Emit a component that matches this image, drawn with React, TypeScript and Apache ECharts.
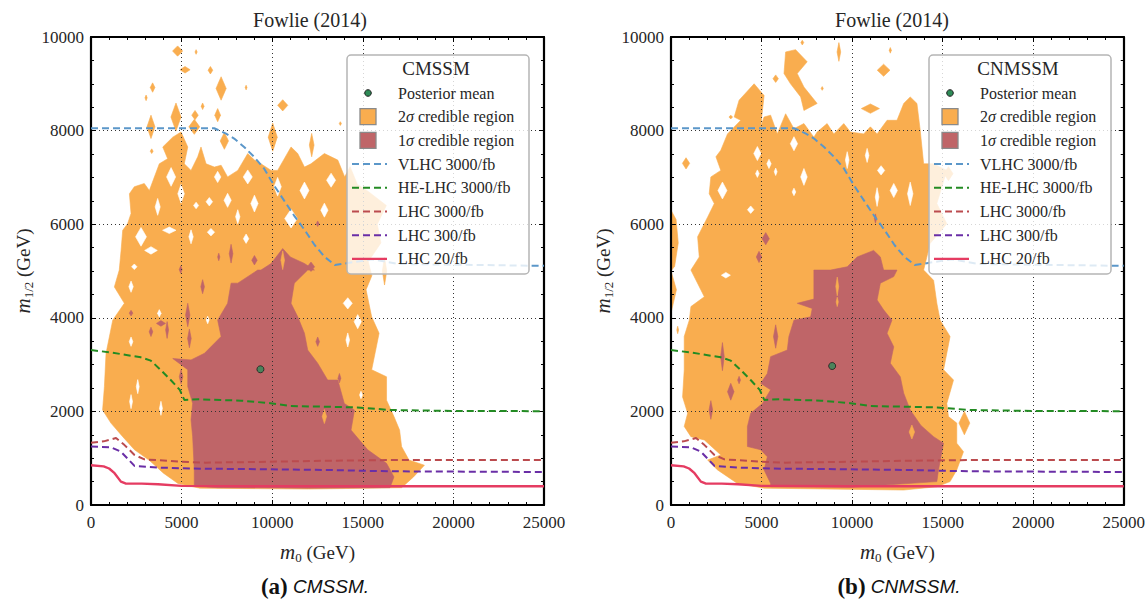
import React, { useEffect, useRef } from "react";
import * as echarts from "echarts";

// ---------- data (m0 GeV, m1/2 GeV) ----------
const X_MIN = 0, X_MAX = 25000, X_STEP = 5000;
const Y_MIN = 0, Y_MAX = 10000, Y_STEP = 2000;

const VLHC_3000 = [[0,8050],[6800,8050],[7450,7935],[7900,7830],[8450,7650],[9000,7440],[9550,7190],[10100,6830],[10650,6510],[11200,6190],[11800,5870],[12350,5550],[12900,5300],[13450,5130],[14000,5160],[15500,5250],[17000,5150],[25000,5110]];
const HELHC_3000 = [[0,3310],[1100,3260],[2750,3155],[3300,3085],[3850,2885],[4400,2670],[4900,2460],[5150,2245],[6000,2258],[8300,2230],[9900,2175],[11000,2115],[12900,2100],[14700,2085],[16500,2030],[20000,2010],[25000,2005]];
const LHC_3000 = [[0,1330],[700,1360],[1380,1430],[1850,1280],[2400,1070],[2950,975],[5000,925],[6300,905],[9200,920],[12900,945],[16500,960],[25000,962]];
const LHC_300 = [[0,1250],[1100,1235],[1650,1140],[2000,1000],[2400,835],[3700,800],[5500,778],[9900,763],[12900,749],[16500,720],[25000,705]];
const LHC_20 = [[0,850],[700,825],[1000,780],[1300,680],[1650,500],[1900,460],[2800,457],[3700,443],[5000,408],[10000,400],[25000,400]];

const CMSSM_MEAN = [[9350, 2900]];
const CNMSSM_MEAN = [[8900, 2970]];

// CMSSM 2 sigma region: main outline, islands [cx, cy, rx, ry], holes [cx, cy, rx, ry]
const CMSSM_2S_MAIN = [[4800,460],[4000,680],[3200,960],[2400,1180],[1750,1460],[1100,1750],[640,2030],[740,2530],[830,3240],[1200,3950],[1840,4310],[1290,4660],[1560,5020],[1660,5440],[1750,5870],[2020,6010],[2210,6230],[2120,6650],[2390,6800],[2940,6870],[3220,6720],[3770,7290],[4230,7400],[3960,7650],[4510,7860],[4970,7970],[5340,7650],[5150,7290],[5520,7150],[5890,7440],[6070,7650],[6350,7290],[6810,7220],[7180,7260],[7540,7010],[8100,7150],[8650,7510],[9020,7370],[9380,7290],[9940,7150],[10300,7150],[11040,7650],[11410,7510],[11780,7220],[12140,7290],[12880,7510],[13620,7370],[14000,7010],[14300,7230],[14700,6850],[15300,6700],[16300,6400],[15800,6000],[16000,5600],[15300,5200],[15500,4900],[15180,4600],[15490,4020],[15900,3670],[15490,2890],[16310,2740],[16310,2240],[16720,1890],[17030,1600],[17140,1250],[17550,960],[18400,850],[17800,600],[17140,370],[12000,340],[6000,360]];
const CMSSM_2S_ISLANDS = [[4780,9700,280,110],[5800,9680,60,50],[5190,9300,280,70],[6590,9290,130,80],[7180,8900,280,250],[3400,8920,130,100],[3040,8700,60,60],[4690,8290,280,300],[5740,8330,180,100],[6160,8520,80,70],[6990,8330,160,140],[10580,8540,280,120],[10030,7860,250,300],[7360,7780,230,180],[3310,8080,220,250],[3350,7560,80,50],[12180,7690,130,250],[8560,8920,50,50],[5700,8080,300,160],[13760,8150,60,40],[16200,5000,120,300]];
const CMSSM_2S_HOLES = [[4320,5870,370,70],[2760,5730,300,200],[3680,6370,140,180],[5800,6400,140,70],[6530,6480,180,90],[6990,7010,180,120],[8650,7010,250,150],[9020,6440,200,180],[7540,6510,200,150],[11780,6720,250,180],[13250,6940,250,150],[6620,5830,200,80],[8560,5690,150,100],[3310,5440,350,80],[2390,5090,150,60],[5520,5730,120,150],[4970,6650,180,200],[11040,6120,350,200],[4420,7010,250,200],[10300,6800,200,200],[12880,6300,200,150],[8100,6160,120,150],[2210,4665,120,120],[3770,4095,100,80],[2210,3490,100,100],[2580,2529,80,150],[2210,2209,80,150],[3860,2066,80,150],[6440,3953,80,80],[14170,4309,250,120],[14720,3918,200,150],[14170,3526,100,150],[14900,2351,80,80]];
const CMSSM_1S_MAIN = [[5700,400],[5700,750],[5610,1460],[5520,1820],[5610,2170],[5340,2530],[5340,2890],[4510,3130],[5520,3100],[6260,3240],[7180,3600],[6990,3950],[7540,4310],[7730,4740],[8100,4740],[9200,5020],[9380,5020],[9940,5160],[10580,5480],[11000,5300],[11780,5160],[12330,5020],[11960,5020],[11220,4740],[11040,4310],[11410,4020],[11780,3670],[11960,3310],[12510,3030],[13060,2670],[13620,2670],[13980,2170],[14540,2030],[14350,1600],[15270,1180],[16310,890],[16720,600],[16500,370],[12000,360],[7000,370]];
const CMSSM_1S_ISLANDS = [[12510,6010,80,60],[7730,5370,100,200],[9020,5230,150,100],[7050,5300,60,80],[12140,5090,200,100],[6160,4665,100,150],[5340,4060,120,250],[3860,3880,250,60],[3310,3700,100,100],[4200,3740,80,180],[2210,4100,100,60],[4970,2740,100,150],[12510,3490,100,100],[13710,2710,80,100],[5430,3560,100,200],[4950,5030,80,80]];
const CMSSM_1S_HOLES = [[10580,5230,100,200],[12880,1890,120,150]];

// CNMSSM
const CNMSSM_2S_MAIN = [[1100,1460],[1840,1390],[2750,1070],[2020,960],[2570,750],[3670,460],[5140,360],[12850,320],[14680,390],[15410,500],[15780,750],[16150,1140],[15780,1320],[15780,1750],[15320,1890],[15230,2170],[15600,2670],[15050,2890],[15410,3600],[14860,3950],[14680,4310],[14500,4800],[13950,5020],[14310,5590],[15230,6010],[14680,6440],[15230,7150],[14500,7290],[13950,7290],[13760,8010],[13580,8580],[13210,8720],[12850,8580],[12480,8220],[11930,8220],[11380,7930],[11010,8080],[10640,7930],[9910,7970],[9540,8150],[8990,7930],[8620,8150],[8070,7970],[7890,7860],[7340,8150],[6790,8040],[6330,8360],[5870,7930],[5500,8330],[5140,8290],[4950,8080],[5140,8750],[4590,9000],[3760,8650],[3490,8290],[3850,8220],[3120,7930],[2750,7580],[2480,7440],[2750,7150],[2200,7010],[2110,6650],[2390,6440],[2020,6150],[1470,5730],[1560,5300],[1100,5020],[1840,4450],[1100,4240],[1010,3950],[730,3600],[730,2890],[640,2310],[920,1960],[730,1680]];
const CNMSSM_2S_EXTRA = [
  [[6240,9220],[6330,9680],[6880,9730],[7520,9470],[6970,9220],[7340,8930],[8070,8580],[7340,8430],[7160,8720],[6600,9000]],
  [[0,6300],[280,6100],[400,5600],[200,5100],[0,5000]],
  [[0,5000],[300,4600],[0,4100]],
];
const CNMSSM_2S_ISLANDS = [[9270,9680,100,200],[11740,9290,350,130],[11010,8470,500,100],[5780,9110,150,80],[3300,8290,100,40],[830,7300,200,120],[8350,8900,60,40],[12110,9715,60,60],[7250,9880,80,50],[15320,7080,250,150],[370,3740,50,80],[16200,1750,300,250]];
const CNMSSM_2S_HOLES = [[4770,7510,200,150],[5410,7290,120,100],[5780,7120,80,80],[4770,7080,100,80],[6790,7720,200,150],[7340,7010,180,180],[2840,6720,250,180],[4400,6310,180,80],[6790,6690,100,80],[9730,7370,100,180],[10830,7470,100,150],[11380,6580,100,200],[12300,6720,200,150],[13210,6650,150,250],[11600,7150,200,100],[3030,4910,250,60]];
const CNMSSM_1S_MAIN = [[5500,390],[5500,460],[5140,750],[5320,1030],[4950,1180],[4220,1250],[4220,1680],[4400,1960],[5050,2170],[5500,2460],[4950,2600],[5320,2810],[5500,3170],[6420,3310],[6510,3600],[6790,3950],[7710,4020],[7800,4200],[6970,4310],[7890,4400],[7890,4740],[7890,5020],[8810,5020],[9730,5090],[10280,5300],[11190,5440],[11560,5300],[11740,5020],[12480,5020],[12300,4880],[11560,4740],[11380,4380],[11740,4170],[12200,3950],[11930,3670],[12300,3380],[12110,3030],[12660,2740],[12850,2390],[13210,2030],[13800,1700],[14500,1460],[15050,1320],[14770,750],[14680,500],[10000,380]];
const CNMSSM_1S_ISLANDS = [[5230,5690,200,130],[4860,5300,150,120],[5780,3600,120,250],[2840,3170,100,300],[3300,2420,180,180],[2200,2030,100,200],[3760,2670,80,80],[11290,6120,60,100]];
const CNMSSM_1S_HOLES = [[9180,4670,80,200],[9180,4340,60,100],[13300,1560,150,150]];

// ---------- styles ----------
const SERIF = "'Liberation Serif', 'DejaVu Serif', serif";
const SANS = "'Liberation Sans', Arial, sans-serif";
const C_2S = "#f9ad4f";
const C_1S = "#bf6568";
const C_MEAN = "#2e8b57";
const LINES = [
  { name: "VLHC 3000/fb", data: VLHC_3000, color: "#5b97c9", dash: true },
  { name: "HE-LHC 3000/fb", data: HELHC_3000, color: "#238b23", dash: true },
  { name: "LHC 3000/fb", data: LHC_3000, color: "#bb4b4e", dash: true },
  { name: "LHC 300/fb", data: LHC_300, color: "#6a2ea6", dash: true },
  { name: "LHC 20/fb", data: LHC_20, color: "#e53c62", dash: false },
];

function diamond(d: number[]) {
  const [cx, cy, rx, ry] = d;
  return [[cx - rx, cy], [cx, cy + ry], [cx + rx, cy], [cx, cy - ry]];
}

function polySeries(polys: number[][][], color: string, gi: number, z: number) {
  return {
    type: "custom",
    xAxisIndex: gi * 2,
    yAxisIndex: gi * 2,
    z,
    clip: true,
    silent: true,
    encode: { x: 0, y: 1 },
    data: polys.map((p, i) => [p[0][0], p[0][1], i]),
    renderItem: (params: any, api: any) => {
      const poly = polys[params.dataIndex];
      return {
        type: "polygon",
        shape: { points: poly.map((p) => api.coord(p)) },
        style: { fill: color, stroke: color, lineWidth: 0.6 },
      };
    },
  };
}

const axisLabelStyle = { fontFamily: SERIF, fontSize: 17, color: "#262626", formatter: (v: number) => String(v) };
const nameStyle = (pad: number) => ({
  fontFamily: SERIF,
  fontSize: 19,
  color: "#262626",
  lineHeight: 26,
  rich: {
    i: { fontFamily: SERIF, fontSize: 21, fontStyle: "italic", color: "#262626", lineHeight: 26 },
    s: { fontFamily: SERIF, fontSize: 13, color: "#262626", lineHeight: 16, padding: [pad, 0, 0, 0] },
  },
});

function axesFor(gi: number) {
  const tick = { show: true, inside: true, length: 5, lineStyle: { color: "#000", width: 1 } };
  const line = { show: true, onZero: false, lineStyle: { color: "#000", width: 2.2 } };
  const split = { show: true, lineStyle: { color: "#333", width: 1, type: [1, 3] } };
  const xBase = { gridIndex: gi, type: "value", min: X_MIN, max: X_MAX, interval: X_STEP, z: 5, axisLine: line, axisTick: tick, minorTick: { show: true, splitNumber: 5, length: 3, lineStyle: { color: "#000" } } };
  const yBase = { gridIndex: gi, type: "value", min: Y_MIN, max: Y_MAX, interval: Y_STEP, z: 5, axisLine: line, axisTick: tick, minorTick: { show: true, splitNumber: 4, length: 3, lineStyle: { color: "#000" } } };
  return {
    x: [
      { ...xBase, position: "bottom", splitLine: split, axisLabel: { ...axisLabelStyle, margin: 9 }, name: "{i|m}{s|0} (GeV)", nameLocation: "middle", nameGap: 34, nameTextStyle: nameStyle(10) },
      { ...xBase, position: "top", splitLine: { show: false }, axisLabel: { show: false } },
    ],
    y: [
      { ...yBase, position: "left", splitLine: split, axisLabel: { ...axisLabelStyle, margin: 7 }, name: "{i|m}{s|1/2} (GeV)", nameLocation: "middle", nameGap: 55, nameTextStyle: nameStyle(10) },
      { ...yBase, position: "right", splitLine: { show: false }, axisLabel: { show: false } },
    ],
  };
}

function panelSeries(gi: number, p: any) {
  const orange = [p.main2, ...(p.extra2 || []), ...p.isl2.map(diamond)];
  const holes = p.holes2.map(diamond);
  const red = [p.main1, ...p.isl1.map(diamond)];
  const redHoles = p.holes1.map(diamond);
  const out: any[] = [
    polySeries(orange, C_2S, gi, 1),
    polySeries(holes, "#ffffff", gi, 2),
    polySeries(red, C_1S, gi, 3),
    polySeries(redHoles, C_2S, gi, 4),
  ];
  LINES.forEach((l) => {
    out.push({
      type: "line", name: l.name, xAxisIndex: gi * 2, yAxisIndex: gi * 2, z: 6,
      data: l.data, showSymbol: false, silent: true,
      lineStyle: { color: l.color, width: l.dash ? 2 : 2.4, type: l.dash ? [7, 4] : "solid" },
    });
  });
  out.push({
    type: "scatter", name: "Posterior mean", xAxisIndex: gi * 2, yAxisIndex: gi * 2, z: 7,
    data: p.mean, symbolSize: 7, itemStyle: { color: C_MEAN, borderColor: "#1b1b1b", borderWidth: 1 },
  });
  return out;
}

function legendElements(x0: number, title: string) {
  const els: any[] = [];
  els.push({ type: "rect", z: 50, shape: { x: x0, y: 55, width: 182, height: 219, r: 4 }, style: { fill: "rgba(255,255,255,0.8)", stroke: "#b5b5b5", lineWidth: 1.5 } });
  els.push({ type: "text", z: 51, x: x0 + 89, y: 68, style: { text: title, fontFamily: SERIF, fontSize: 19, fill: "#262626", align: "center", verticalAlign: "middle" } });
  const rowY = (i: number) => 93 + i * 23.7;
  const txt = (i: number, s: string) => ({
    type: "text", z: 51, x: x0 + 51, y: rowY(i),
    style: { text: s, fontFamily: SERIF, fontSize: 16, fill: "#262626", align: "left", verticalAlign: "middle", rich: { g: { fontFamily: SERIF, fontSize: 16, fontStyle: "italic", fill: "#262626" } } },
  });
  els.push({ type: "circle", z: 51, shape: { cx: x0 + 21, cy: rowY(0), r: 3.3 }, style: { fill: C_MEAN, stroke: "#1b1b1b", lineWidth: 1 } });
  els.push(txt(0, "Posterior mean"));
  els.push({ type: "rect", z: 51, shape: { x: x0 + 13, y: rowY(1) - 8, width: 16, height: 16 }, style: { fill: C_2S, stroke: "#8a8a8a", lineWidth: 1.3 } });
  els.push(txt(1, "2{g|σ} credible region"));
  els.push({ type: "rect", z: 51, shape: { x: x0 + 13, y: rowY(2) - 8, width: 16, height: 16 }, style: { fill: C_1S, stroke: "#8a8a8a", lineWidth: 1.3 } });
  els.push(txt(2, "1{g|σ} credible region"));
  LINES.forEach((l, k) => {
    const i = k + 3;
    els.push({ type: "line", z: 51, shape: { x1: x0 + 5, y1: rowY(i), x2: x0 + 40, y2: rowY(i) }, style: { stroke: l.color, lineWidth: l.dash ? 2 : 2.4, lineDash: l.dash ? [7, 4] : null } });
    els.push(txt(i, l.name));
  });
  return els;
}

export default function App() {
  const ref = useRef<HTMLDivElement>(null);
  useEffect(() => {
    if (!ref.current) return;
    const chart = echarts.init(ref.current, undefined, { renderer: "svg" });
    const a0 = axesFor(0);
    const a1 = axesFor(1);
    const p0 = { main2: CMSSM_2S_MAIN, isl2: CMSSM_2S_ISLANDS, holes2: CMSSM_2S_HOLES, main1: CMSSM_1S_MAIN, isl1: CMSSM_1S_ISLANDS, holes1: CMSSM_1S_HOLES, mean: CMSSM_MEAN };
    const p1 = { main2: CNMSSM_2S_MAIN, extra2: CNMSSM_2S_EXTRA, isl2: CNMSSM_2S_ISLANDS, holes2: CNMSSM_2S_HOLES, main1: CNMSSM_1S_MAIN, isl1: CNMSSM_1S_ISLANDS, holes1: CNMSSM_1S_HOLES, mean: CNMSSM_MEAN };
    const titleEl = (x: number) => ({ type: "text", z: 60, x, y: 20, style: { text: "Fowlie (2014)", fontFamily: SERIF, fontSize: 20, fill: "#262626", align: "center", verticalAlign: "middle" } });
    const capEl = (x: number, lab: string, name: string) => ({
      type: "text", z: 60, x, y: 586,
      style: {
        text: `{b|${lab}} {i|${name}}`, align: "center", verticalAlign: "middle", fontFamily: SANS, fontSize: 19, fill: "#111",
        rich: { b: { fontFamily: SERIF, fontSize: 23, fontWeight: "bold", fill: "#111" }, i: { fontFamily: SANS, fontSize: 19, fontStyle: "italic", fill: "#111" } },
      },
    });
    chart.setOption({
      animation: false,
      backgroundColor: "#ffffff",
      grid: [
        { left: 91, top: 37, width: 453, height: 468 },
        { left: 671, top: 37, width: 454, height: 468 },
      ],
      xAxis: [...a0.x, ...a1.x],
      yAxis: [...a0.y, ...a1.y],
      series: [...panelSeries(0, p0), ...panelSeries(1, p1)],
      graphic: [
        titleEl(310), titleEl(892),
        capEl(315, "(a)", "CMSSM."), capEl(899, "(b)", "CNMSSM."),
        ...legendElements(347, "CMSSM"),
        ...legendElements(929, "CNMSSM"),
      ],
    });
    return () => chart.dispose();
  }, []);
  return <div ref={ref} style={{ position: "fixed", left: 0, top: 0, width: 1148, height: 601 }} />;
}
